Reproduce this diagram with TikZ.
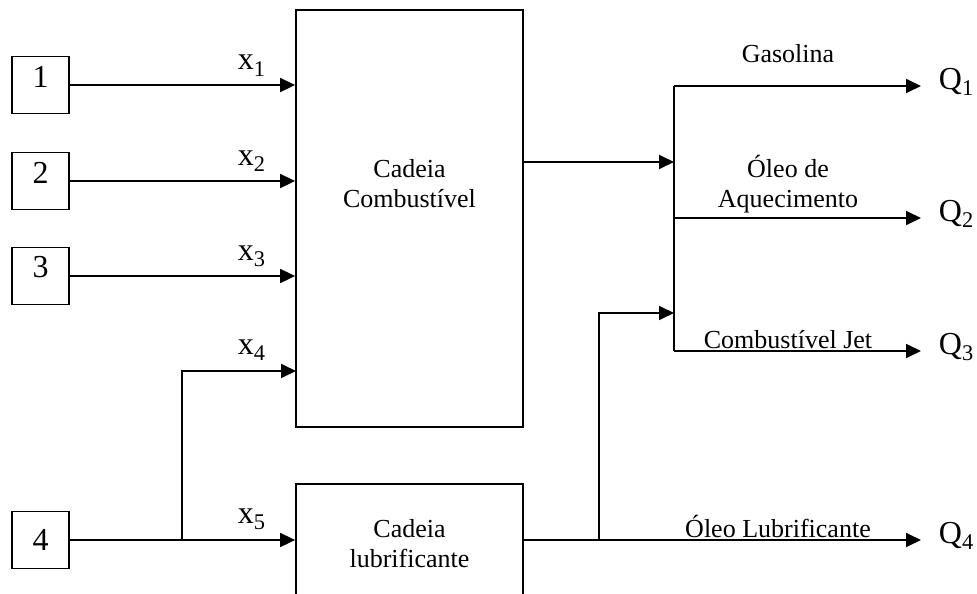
\documentclass[tikz,border=0pt]{standalone}
\usepackage{fontspec}
\setmainfont{Liberation Serif}
\usetikzlibrary{arrows.meta}
\begin{document}
\begin{tikzpicture}[x=1pt,y=-1pt,
  line width=1.8pt,
  arr/.style={-{Triangle[length=15pt,width=14pt]}},
  numbox/.style={draw,minimum width=57pt,minimum height=57pt,inner sep=0pt},
  bigbox/.style={draw,inner sep=0pt,minimum width=227pt},
  txt/.style={font=\fontsize{26}{30}\selectfont,anchor=base,inner sep=0pt},
  lbl/.style={font=\fontsize{32}{36}\selectfont,anchor=base west,inner sep=0pt},
  num/.style={font=\fontsize{32}{36}\selectfont,anchor=base,inner sep=0pt}]
\useasboundingbox (0,0) rectangle (977,594);
\clip (0,0) rectangle (977,594);

% input boxes
\node[numbox] (b1) at (40.5,85) {};
\node[numbox] (b2) at (40.5,181) {};
\node[numbox] (b3) at (40.5,276) {};
\node[numbox] (b4) at (40.5,540) {};
\node[num] (n1) at (40.5,88) {1};
\node[num] (n2) at (40.5,183) {2};
\node[num] (n3) at (40.5,277) {3};
\node[num] (n4) at (40.5,550) {4};

% process boxes
\node[bigbox,minimum height=417pt] (comb) at (409.5,218.5) {};
\node[bigbox,minimum height=128pt] (lub) at (409.5,548) {};
\node[txt] (c1) at (409.5,177) {Cadeia};
\node[txt] (c2) at (409.5,207) {Combustível};
\node[txt] (l1) at (409.5,537) {Cadeia};
\node[txt] (l2) at (409.5,567) {lubrificante};

% inputs
\draw[arr] (b1.east) -- (comb.west |- b1.east);
\draw[arr] (b2.east) -- (comb.west |- b2.east);
\draw[arr] (b3.east) -- (comb.west |- b3.east);
\coordinate (j4) at (182,540);
\coordinate (x4in) at (296,371);
\draw[arr] (b4.east) -- (lub.west |- b4.east);
\draw[arr] (j4) |- (x4in);
\node[lbl] (x1) at (237,70) {x\textsubscript{1}};
\node[lbl] (x2) at (237,165) {x\textsubscript{2}};
\node[lbl] (x3) at (237,260) {x\textsubscript{3}};
\node[lbl] (x4) at (237,354) {x\textsubscript{4}};
\node[lbl] (x5) at (237,523) {x\textsubscript{5}};

% outputs
\coordinate (bustop) at (674,86);
\coordinate (busbot) at (674,351);
\coordinate (busin1) at (674,162);
\coordinate (busin2) at (674,313);
\coordinate (j5) at (599,540);
\draw[arr] (comb.east |- busin1) -- (busin1);
\draw (bustop) -- (busbot);
\draw[arr] (j5) |- (busin2);

\node[lbl] (q1) at (938,89) {Q\textsubscript{1}};
\node[lbl] (q2) at (938,221) {Q\textsubscript{2}};
\node[lbl] (q3) at (938,354) {Q\textsubscript{3}};
\node[lbl] (q4) at (938,543) {Q\textsubscript{4}};

\draw[arr] (bustop) -- (921,86);
\draw[arr] (674,218) -- (921,218);
\draw[arr] (busbot) -- (921,351);
\draw[arr] (lub.east |- b4.east) -- (921,540);

\node[txt] (g) at (788,63) {Gasolina};
\node[txt] (o1) at (788,177) {Óleo de};
\node[txt] (o2) at (788,207) {Aquecimento};
\node[txt] (cj) at (788,348) {Combustível Jet};
\node[txt] (ol) at (778,537) {Óleo Lubrificante};
\end{tikzpicture}
\end{document}
